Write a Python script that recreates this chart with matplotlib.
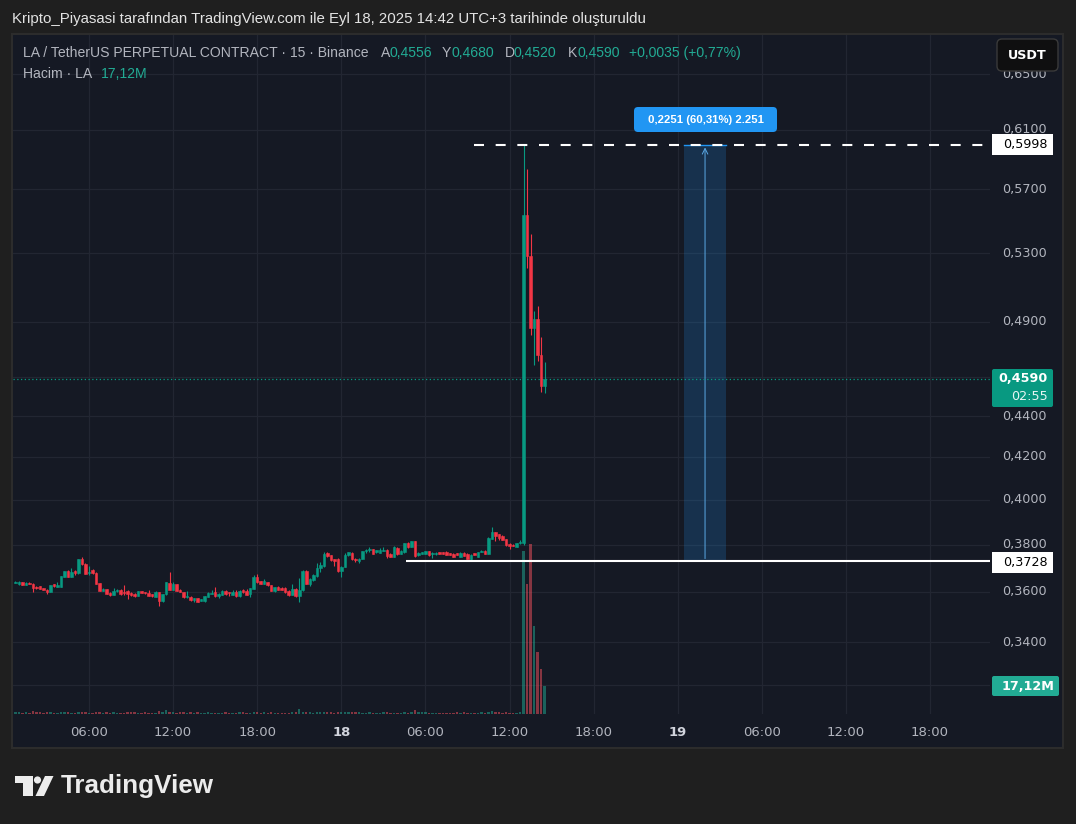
import pandas as pd
import matplotlib
matplotlib.use('Agg')
import matplotlib.pyplot as plt
from matplotlib.patches import Rectangle, FancyBboxPatch, Circle, Polygon
from matplotlib.ticker import NullLocator
from matplotlib.transforms import Affine2D

W, H = 1076, 824

# 15 minute candles, LA/USDT perp, Sep 17 00:45 -> Sep 18 14:30
opens = [
    0.3639, 0.3634, 0.3641, 0.3630, 0.3639, 0.3635, 0.3620, 0.3624, 0.3615, 0.3610,
    0.3600, 0.3631, 0.3621, 0.3621, 0.3663, 0.3687, 0.3663, 0.3687, 0.3679, 0.3737,
    0.3718, 0.3679, 0.3691, 0.3679, 0.3637, 0.3604, 0.3611, 0.3596, 0.3588, 0.3602,
    0.3610, 0.3600, 0.3606, 0.3596, 0.3593, 0.3585, 0.3603, 0.3599, 0.3596, 0.3590,
    0.3580, 0.3599, 0.3562, 0.3590, 0.3638, 0.3610, 0.3633, 0.3609, 0.3599, 0.3581,
    0.3581, 0.3566, 0.3574, 0.3563, 0.3564, 0.3580, 0.3593, 0.3599, 0.3585, 0.3588,
    0.3605, 0.3598, 0.3588, 0.3600, 0.3582, 0.3609, 0.3602, 0.3591, 0.3614, 0.3661,
    0.3645, 0.3634, 0.3641, 0.3628, 0.3605, 0.3622, 0.3617, 0.3615, 0.3605, 0.3588,
    0.3613, 0.3582, 0.3608, 0.3687, 0.3634, 0.3648, 0.3665, 0.3701, 0.3708, 0.3762,
    0.3754, 0.3736, 0.3739, 0.3686, 0.3705, 0.3754, 0.3764, 0.3740, 0.3728, 0.3738,
    0.3771, 0.3776, 0.3780, 0.3766, 0.3764, 0.3774, 0.3778, 0.3761, 0.3747, 0.3786,
    0.3760, 0.3767, 0.3807, 0.3790, 0.3814, 0.3756, 0.3760, 0.3761, 0.3771, 0.3760,
    0.3759, 0.3767, 0.3767, 0.3767, 0.3763, 0.3761, 0.3763, 0.3747, 0.3764, 0.3761,
    0.3740, 0.3763, 0.3747, 0.3768, 0.3774, 0.3761, 0.3826, 0.3853, 0.3846, 0.3838,
    0.3823, 0.3803, 0.3800, 0.3790, 0.3806, 0.3805, 0.5535, 0.5282, 0.4867, 0.4916,
    0.4720, 0.4556,
]
highs = [
    0.3644, 0.3644, 0.3642, 0.3641, 0.3641, 0.3636, 0.3623, 0.3626, 0.3618, 0.3612,
    0.3630, 0.3634, 0.3640, 0.3668, 0.3689, 0.3690, 0.3698, 0.3693, 0.3739, 0.3747,
    0.3720, 0.3709, 0.3694, 0.3681, 0.3639, 0.3617, 0.3613, 0.3598, 0.3618, 0.3612,
    0.3613, 0.3628, 0.3607, 0.3598, 0.3595, 0.3604, 0.3605, 0.3601, 0.3607, 0.3592,
    0.3602, 0.3601, 0.3592, 0.3643, 0.3681, 0.3640, 0.3635, 0.3612, 0.3601, 0.3602,
    0.3584, 0.3577, 0.3577, 0.3573, 0.3584, 0.3600, 0.3609, 0.3620, 0.3594, 0.3607,
    0.3607, 0.3600, 0.3607, 0.3607, 0.3608, 0.3612, 0.3613, 0.3617, 0.3672, 0.3675,
    0.3647, 0.3654, 0.3643, 0.3630, 0.3622, 0.3624, 0.3619, 0.3620, 0.3608, 0.3633,
    0.3615, 0.3658, 0.3690, 0.3690, 0.3656, 0.3674, 0.3720, 0.3726, 0.3767, 0.3768,
    0.3756, 0.3738, 0.3741, 0.3707, 0.3764, 0.3770, 0.3766, 0.3741, 0.3741, 0.3773,
    0.3783, 0.3788, 0.3782, 0.3778, 0.3787, 0.3788, 0.3780, 0.3763, 0.3792, 0.3788,
    0.3776, 0.3808, 0.3810, 0.3816, 0.3816, 0.3766, 0.3770, 0.3773, 0.3773, 0.3766,
    0.3766, 0.3769, 0.3769, 0.3771, 0.3765, 0.3763, 0.3765, 0.3766, 0.3767, 0.3763,
    0.3759, 0.3765, 0.3770, 0.3776, 0.3776, 0.3831, 0.3879, 0.3855, 0.3848, 0.3840,
    0.3825, 0.3805, 0.3802, 0.3809, 0.3818, 0.5998, 0.5833, 0.5417, 0.4961, 0.4989,
    0.4816, 0.4680,
]
lows = [
    0.3637, 0.3630, 0.3629, 0.3628, 0.3633, 0.3600, 0.3614, 0.3611, 0.3607, 0.3592,
    0.3598, 0.3622, 0.3620, 0.3620, 0.3661, 0.3661, 0.3660, 0.3669, 0.3673, 0.3713,
    0.3673, 0.3669, 0.3675, 0.3632, 0.3602, 0.3602, 0.3590, 0.3583, 0.3586, 0.3600,
    0.3589, 0.3589, 0.3572, 0.3584, 0.3580, 0.3583, 0.3594, 0.3593, 0.3583, 0.3580,
    0.3578, 0.3544, 0.3560, 0.3586, 0.3608, 0.3607, 0.3604, 0.3598, 0.3577, 0.3574,
    0.3563, 0.3560, 0.3558, 0.3562, 0.3560, 0.3578, 0.3591, 0.3580, 0.3574, 0.3586,
    0.3589, 0.3584, 0.3586, 0.3580, 0.3580, 0.3595, 0.3586, 0.3581, 0.3612, 0.3639,
    0.3631, 0.3632, 0.3626, 0.3603, 0.3600, 0.3607, 0.3607, 0.3597, 0.3585, 0.3586,
    0.3580, 0.3560, 0.3604, 0.3632, 0.3625, 0.3646, 0.3660, 0.3682, 0.3706, 0.3748,
    0.3730, 0.3710, 0.3684, 0.3662, 0.3703, 0.3752, 0.3734, 0.3727, 0.3720, 0.3736,
    0.3763, 0.3768, 0.3759, 0.3764, 0.3762, 0.3772, 0.3744, 0.3745, 0.3745, 0.3757,
    0.3758, 0.3765, 0.3786, 0.3788, 0.3748, 0.3751, 0.3758, 0.3759, 0.3752, 0.3743,
    0.3757, 0.3759, 0.3759, 0.3754, 0.3754, 0.3746, 0.3754, 0.3745, 0.3749, 0.3738,
    0.3733, 0.3754, 0.3745, 0.3766, 0.3759, 0.3759, 0.3824, 0.3817, 0.3821, 0.3818,
    0.3795, 0.3783, 0.3792, 0.3788, 0.3804, 0.3798, 0.5212, 0.4828, 0.4666, 0.4687,
    0.4522, 0.4520,
]
closes = [
    0.3641, 0.3642, 0.3630, 0.3639, 0.3635, 0.3616, 0.3617, 0.3613, 0.3609, 0.3600,
    0.3628, 0.3625, 0.3627, 0.3666, 0.3687, 0.3663, 0.3681, 0.3677, 0.3737, 0.3715,
    0.3676, 0.3684, 0.3677, 0.3634, 0.3604, 0.3611, 0.3592, 0.3589, 0.3603, 0.3607,
    0.3593, 0.3595, 0.3593, 0.3586, 0.3583, 0.3602, 0.3596, 0.3595, 0.3585, 0.3583,
    0.3599, 0.3562, 0.3590, 0.3641, 0.3610, 0.3635, 0.3606, 0.3601, 0.3579, 0.3585,
    0.3567, 0.3575, 0.3561, 0.3570, 0.3582, 0.3597, 0.3597, 0.3582, 0.3592, 0.3605,
    0.3591, 0.3594, 0.3599, 0.3582, 0.3606, 0.3600, 0.3588, 0.3615, 0.3661, 0.3641,
    0.3633, 0.3645, 0.3628, 0.3605, 0.3620, 0.3609, 0.3609, 0.3599, 0.3587, 0.3613,
    0.3582, 0.3610, 0.3687, 0.3634, 0.3654, 0.3672, 0.3700, 0.3714, 0.3760, 0.3751,
    0.3732, 0.3729, 0.3686, 0.3705, 0.3754, 0.3767, 0.3736, 0.3733, 0.3740, 0.3771,
    0.3777, 0.3780, 0.3761, 0.3776, 0.3777, 0.3777, 0.3751, 0.3747, 0.3790, 0.3760,
    0.3774, 0.3806, 0.3788, 0.3814, 0.3750, 0.3764, 0.3768, 0.3771, 0.3754, 0.3764,
    0.3764, 0.3761, 0.3761, 0.3756, 0.3756, 0.3748, 0.3756, 0.3764, 0.3751, 0.3740,
    0.3757, 0.3756, 0.3768, 0.3774, 0.3761, 0.3829, 0.3853, 0.3837, 0.3829, 0.3820,
    0.3797, 0.3796, 0.3794, 0.3807, 0.3810, 0.5535, 0.5282, 0.4867, 0.4916, 0.4720,
    0.4556, 0.4590,
]
# volume in millions of LA
volumes = [
    1.0, 1.0, 0.9, 1.0, 0.8, 1.6, 1.0, 1.0, 0.9, 1.0,
    1.0, 0.8, 0.9, 1.0, 1.1, 1.0, 0.9, 0.8, 1.1, 1.0,
    1.0, 0.9, 0.8, 1.0, 1.0, 0.9, 1.0, 0.8, 1.0, 0.9,
    0.6, 0.7, 1.0, 1.0, 1.0, 0.9, 0.8, 1.0, 0.7, 0.6,
    0.7, 1.6, 1.0, 2.2, 1.4, 1.0, 0.9, 1.0, 1.0, 0.9,
    1.0, 0.8, 1.0, 0.9, 0.8, 1.0, 0.7, 0.6, 0.9, 0.8,
    1.0, 0.6, 0.7, 0.8, 1.0, 1.0, 0.9, 0.8, 1.0, 1.0,
    0.9, 1.0, 0.8, 1.0, 0.9, 0.7, 0.6, 0.7, 0.8, 1.0,
    1.1, 2.8, 1.4, 1.0, 1.0, 0.8, 1.0, 1.0, 1.0, 1.0,
    1.0, 0.9, 1.0, 1.0, 1.0, 1.0, 1.0, 1.0, 1.0, 0.8,
    0.7, 1.0, 0.9, 0.9, 0.8, 1.0, 1.0, 0.9, 0.8, 0.9,
    0.9, 1.0, 0.8, 1.0, 2.2, 1.0, 1.0, 1.0, 0.9, 0.6,
    0.7, 0.6, 0.7, 0.7, 0.6, 0.9, 1.0, 0.8, 1.0, 0.6,
    0.7, 0.8, 0.9, 1.1, 0.9, 1.0, 1.6, 1.0, 1.0, 0.9,
    1.0, 0.6, 0.6, 0.7, 1.0, 99.6, 79.5, 104.0, 53.8, 37.9,
    27.5, 17.12,
]

first_bar = '2025-09-17 00:45'
day0 = '2025-09-17'

price_ticks = [0.3237, 0.34, 0.36, 0.38, 0.40, 0.42, 0.44, 0.46, 0.49, 0.53, 0.57, 0.61, 0.65]
price_labels = ['', '0,3400', '0,3600', '0,3800', '0,4000', '0,4200', '0,4400', '',
                '0,4900', '0,5300', '0,5700', '0,6100', '0,6500']
time_ticks = [6, 12, 18, 24, 30, 36, 42, 48, 54, 60, 66]
time_labels = ['06:00', '12:00', '18:00', '18', '06:00', '12:00', '18:00', '19',
               '06:00', '12:00', '18:00']

high_level = 0.5998
low_level = 0.3728
last_price = 0.4590
last_volume = '17,12M'
high_line_from = 33.5     # hours after Sep 17 00:00
low_line_from = 28.6
range_from, range_to = 48.45, 51.45

UP, DOWN = '#089981', '#f23645'
VUP, VDOWN = '#22ab94', '#f7525f'
BG, OUTER = '#151924', '#1f1f1f'
GRID = '#222632'
TXT = '#b2b5be'
TEAL = '#22ab94'

plt.rcParams['font.family'] = ['DejaVu Sans']

fig = plt.figure(figsize=(W / 100, H / 100), dpi=100)
fig.patch.set_facecolor(OUTER)
px = Affine2D().scale(1 / W, -1 / H).translate(0, 1) + fig.transFigure


def fx(x):
    return x / W


def fy(y):
    return 1 - y / H


# chart panel
fig.add_artist(Rectangle((12, 34), 1051, 714, transform=px, fc=BG, ec='#2c2c2c',
                         lw=1.5, zorder=-5))

left, right, top, bottom = 13, 990, 35, 714
rect = [fx(left), fy(bottom), (right - left) / W, (bottom - top) / H]
xlim = (0.578, 70.28)
ylim = (0.3132, 0.6798)

axg = fig.add_axes(rect, zorder=0)
axv = fig.add_axes(rect, zorder=1)
ax = fig.add_axes(rect, zorder=2)
for a in (axg, axv, ax):
    a.set_facecolor('none')
    for s in a.spines.values():
        s.set_visible(False)
    a.set_xlim(*xlim)

# grid layer
axg.set_yscale('log')
axg.set_ylim(*ylim)
axg.set_yticks(price_ticks)
axg.yaxis.set_minor_locator(NullLocator())
axg.set_xticks(time_ticks)
axg.grid(True, color=GRID, lw=0.9)
axg.tick_params(length=0, labelleft=False, labelbottom=False)

times = pd.date_range(first_bar, periods=len(closes), freq='15min')
x = (times - pd.Timestamp(day0)) / pd.Timedelta(hours=1)
is_up = [c >= o for o, c in zip(opens, closes)]

# volume
axv.bar(x, volumes, width=0.17, color=[VUP if u else VDOWN for u in is_up], alpha=0.5, lw=0)
axv.set_ylim(0, 415)
axv.axis('off')
axv.set_xlim(*xlim)

# candles
cols = [UP if u else DOWN for u in is_up]
ax.set_yscale('log')
ax.vlines(x, lows, highs, colors=cols, lw=0.8, zorder=3)
ax.bar(x, [abs(c - o) for o, c in zip(opens, closes)],
       bottom=[min(o, c) for o, c in zip(opens, closes)],
       width=0.18, color=cols, edgecolor=cols, lw=0.4, zorder=4)
ax.set_ylim(*ylim)
ax.set_xlim(*xlim)

ax.yaxis.tick_right()
ax.set_yticks(price_ticks, price_labels)
ax.yaxis.set_minor_locator(NullLocator())
ax.set_xticks(time_ticks, time_labels)
ax.tick_params(axis='y', length=0, pad=8.6, labelsize=9.2, labelcolor=TXT)
ax.tick_params(axis='x', length=0, pad=9, labelsize=9.5, labelcolor=TXT)
for lab in ax.get_yticklabels():
    lab.set_verticalalignment('center')
for lab in ax.get_xticklabels():
    if len(lab.get_text()) == 2:
        lab.set_fontweight('bold')
        lab.set_color('#d1d4dc')

# drawings
ax.fill_between([range_from, range_to], low_level, high_level,
                color=(33 / 255, 150 / 255, 243 / 255, 0.2), lw=0, zorder=1)
ax.plot([range_from, range_to], [high_level, high_level], color='#2196f3', lw=1, zorder=2)
ax.annotate('', xy=((range_from + range_to) / 2, high_level),
            xytext=((range_from + range_to) / 2, low_level),
            arrowprops=dict(arrowstyle='->', color='#5aa9e6', lw=0.7), zorder=2)
ax.hlines(last_price, xlim[0], xlim[1], colors=UP, lw=0.9, linestyles=(0, (1, 2)), zorder=2)
ax.hlines(high_level, high_line_from, xlim[1], colors='white', lw=1.5,
          linestyles=(0, (4.8, 5.6)), zorder=5)
ax.hlines(low_level, low_line_from, xlim[1], colors='white', lw=1.5, zorder=5)


def label_box(x0, y0, x1, y1, fc, r=0, ec='none', lw=0, z=3):
    fig.add_artist(FancyBboxPatch((x0, y0), x1 - x0, y1 - y0,
                                  boxstyle=f'round,pad=0,rounding_size={r}',
                                  transform=px, fc=fc, ec=ec, lw=lw, zorder=z))


# price scale labels
label_box(992, 134, 1053, 155, 'white')
fig.text(fx(1048), fy(144.5), '0,5998', color='black', fontsize=9.2, ha='right', va='center')
label_box(992, 552, 1053, 573, 'white')
fig.text(fx(1048), fy(562.5), '0,3728', color='black', fontsize=9.2, ha='right', va='center')
label_box(992, 369, 1053, 407, UP, r=2)
fig.text(fx(1048), fy(378), '0,4590', color='white', fontsize=9.2, ha='right', va='center',
         fontweight='bold')
fig.text(fx(1048), fy(396), '02:55', color='#e6f5f2', fontsize=9.2, ha='right', va='center')
label_box(992, 676, 1059, 696, TEAL, r=2)
fig.text(fx(1054), fy(686), last_volume, color='white', fontsize=9.2, ha='right', va='center',
         fontweight='bold')

# USDT button
label_box(997, 39, 1058, 71, '#0f0f10', r=5, ec='#3a3a3a', lw=1, z=4)
fig.text(fx(1027.5), fy(55.5), 'USDT', color='white', fontsize=9.2, ha='center', va='center',
         fontweight='bold', zorder=5)

# range measure label
label_box(634, 107, 777, 132, '#2196f3', r=4)
fig.text(fx(705.5), fy(120), '0,2251 (60,31%) 2.251', color='white', fontsize=8.2,
         ha='center', va='center', fontweight='bold', family='Liberation Sans')

# header
fig.text(fx(12), fy(19), 'Kripto_Piyasasi tarafından TradingView.com ile Eyl 18, 2025 14:42 '
         'UTC+3 tarihinde oluşturuldu', color='#e3e3e3', fontsize=10.8, va='center',
         family='Liberation Sans')

legend_row = [
    ('LA / TetherUS PERPETUAL CONTRACT · 15 · Binance', 23, TXT),
    ('A', 381, TXT), ('0,4556', 390, TEAL),
    ('Y', 442, TXT), ('0,4680', 451, TEAL),
    ('D', 505, TXT), ('0,4520', 514, TEAL),
    ('K', 568, TXT), ('0,4590', 577, TEAL),
    ('+0,0035 (+0,77%)', 629, TEAL),
]
for s, xx, c in legend_row:
    fig.text(fx(xx), fy(53), s, color=c, fontsize=10.1, va='center', family='Liberation Sans')
fig.text(fx(23), fy(74), 'Hacim · LA', color=TXT, fontsize=10.1, va='center',
         family='Liberation Sans')
fig.text(fx(101), fy(74), last_volume, color=TEAL, fontsize=10.1, va='center',
         family='Liberation Sans')

# TradingView logo
logo = '#ececec'
fig.add_artist(Polygon([(15, 776), (33, 776), (33, 796), (23, 796), (23, 783), (15, 783)],
                       closed=True, transform=px, fc=logo, ec='none'))
fig.add_artist(Circle((37.5, 780), 3.6, transform=px, fc=logo, ec='none'))
fig.add_artist(Polygon([(35.5, 796), (44, 796), (53.5, 776), (45, 776)],
                       closed=True, transform=px, fc=logo, ec='none'))
fig.text(fx(61), fy(786), 'TradingView', color=logo, fontsize=18.7, fontweight='bold',
         va='center', family='Liberation Sans')

fig.savefig('out.png', dpi=100, facecolor=OUTER)
